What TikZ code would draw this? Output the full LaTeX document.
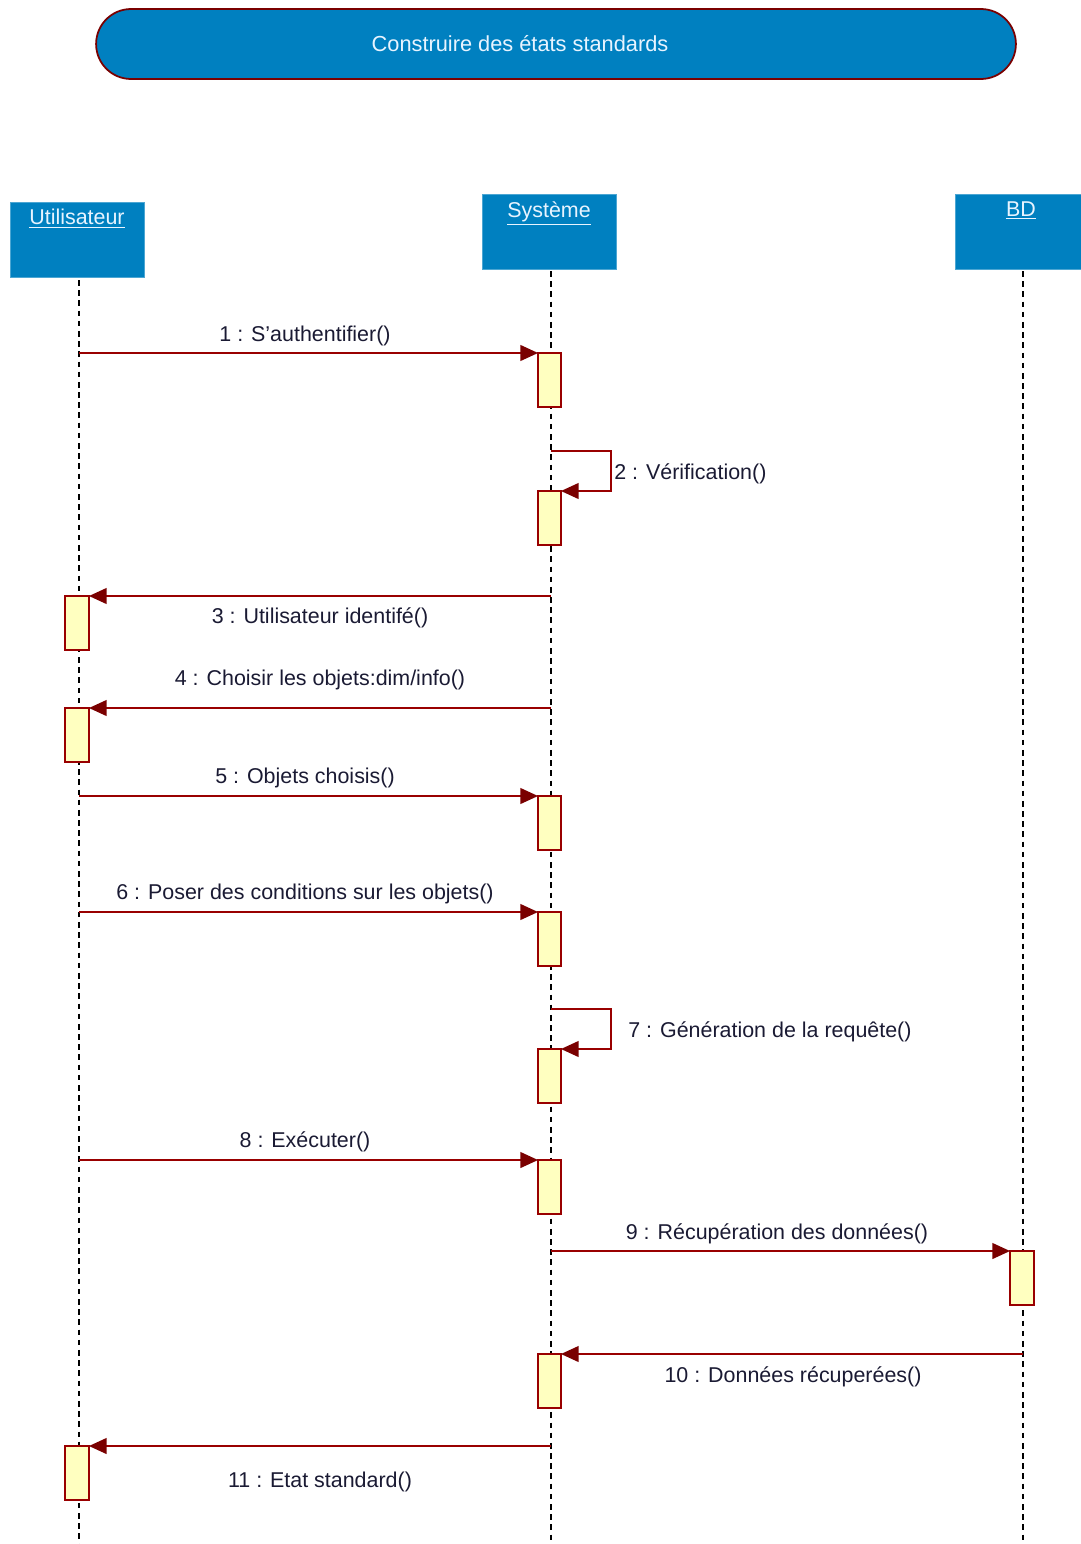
\documentclass[tikz,border=0pt]{standalone}
\usepackage{fontspec}
\setmainfont{Liberation Sans}[Ligatures=NoCommon]
\usetikzlibrary{arrows.meta,shapes.misc}
\definecolor{hdrblue}{HTML}{0080C0}
\definecolor{msgred}{HTML}{990000}
\definecolor{tipred}{HTML}{7A0000}
\definecolor{actfill}{HTML}{FFFFC0}
\definecolor{txt}{HTML}{1A1A33}
\definecolor{hdrtxt}{HTML}{E8F4FF}
\newcommand{\apos}{\char"27\relax}
\begin{document}
\begin{tikzpicture}[x=0.02cm,y=-0.02cm,
  header/.style={draw=hdrblue!70!white,fill=hdrblue,line width=0.5pt},
  hdrlabel/.style={text=hdrtxt,font=\fontsize{12.2}{14}\selectfont,inner sep=0pt,anchor=north},
  lifeline/.style={draw=black,line width=0.9pt,dash pattern=on 3.2pt off 2.6pt},
  act/.style={draw=msgred,fill=actfill,line width=0.8pt},
  msg/.style={draw=msgred,line width=0.8pt,-{Triangle[length=10pt,width=9pt,fill=tipred,color=tipred]}},
  lbl/.style={text=txt,font=\fontsize{12.2}{14}\selectfont,inner sep=0pt}]
\useasboundingbox (0,0) rectangle (1081,1544);

% title
\node[rounded rectangle,fill=hdrblue,draw=msgred!80!black,line width=1pt,
  minimum width=18.4cm,minimum height=1.4cm,inner sep=0pt,
  text=hdrtxt,font=\fontsize{12.4}{14}\selectfont] (title) at (556,44)
  {\makebox[0pt]{\hspace*{-1.44cm}Construire des états standards}};

% lifeline heads
\path[header] (10,202) rectangle (144,277);
\path[header] (482,194) rectangle (616,269);
\path[header] (955,194) rectangle (1081,269);
\node[hdrlabel] (uh) at (77,209) {\underline{Utilisateur}};
\node[hdrlabel] (sh) at (549,201) {\underline{Système}};
\node[hdrlabel] (bh) at (1021,201) {\underline{BD}};

\coordinate (u0) at (79,280);
\coordinate (u1) at (79,1544);
\coordinate (s0) at (551,271);
\coordinate (s1) at (551,1540);
\coordinate (b0) at (1023,271);
\coordinate (b1) at (1023,1540);
\draw[lifeline] (u0) -- (u1);
\draw[lifeline] (s0) -- (s1);
\draw[lifeline] (b0) -- (b1);

% activation bars
\foreach \n/\y in {s1/353,s2/491,s4/796,s5/912,s6/1049,s7/1160,s8/1354}
  \filldraw[act] (538,\y) rectangle (561,\y+54) coordinate (\n);
\foreach \n/\y in {a1/596,a2/708,a3/1446}
  \filldraw[act] (65,\y) rectangle (89,\y+54) coordinate (\n);
\filldraw[act] (1010,1251) rectangle (1034,1305);

% messages
\coordinate (m1a) at (79,353);   \coordinate (m1b) at (538,353);
\draw[msg] (m1a) -- (m1b);
\node[lbl] (l1) at (305,336) {1 : S\apos authentifier()};

\coordinate (m2a) at (551,451);  \coordinate (m2b) at (561,491);
\draw[msg] (m2a) -- (611,451) -- (611,491) -- (m2b);
\node[lbl,anchor=west] (l2) at (614,474) {2 : Vérification()};

\coordinate (m3a) at (551,596);  \coordinate (m3b) at (89,596);
\draw[msg] (m3a) -- (m3b);
\node[lbl] (l3) at (320,618) {3 : Utilisateur identifé()};

\coordinate (m4a) at (551,708);  \coordinate (m4b) at (89,708);
\draw[msg] (m4a) -- (m4b);
\node[lbl] (l4) at (320,680) {4 : Choisir les objets:dim/info()};

\coordinate (m5a) at (79,796);   \coordinate (m5b) at (538,796);
\draw[msg] (m5a) -- (m5b);
\node[lbl] (l5) at (305,778) {5 : Objets choisis()};

\coordinate (m6a) at (79,912);   \coordinate (m6b) at (538,912);
\draw[msg] (m6a) -- (m6b);
\node[lbl] (l6) at (305,894) {6 : Poser des conditions sur les objets()};

\coordinate (m7a) at (551,1009); \coordinate (m7b) at (561,1049);
\draw[msg] (m7a) -- (611,1009) -- (611,1049) -- (m7b);
\node[lbl,anchor=west] (l7) at (628,1032) {7 : Génération de la requête()};

\coordinate (m8a) at (79,1160);  \coordinate (m8b) at (538,1160);
\draw[msg] (m8a) -- (m8b);
\node[lbl] (l8) at (305,1142) {8 : Exécuter()};

\coordinate (m9a) at (551,1251); \coordinate (m9b) at (1010,1251);
\draw[msg] (m9a) -- (m9b);
\node[lbl] (l9) at (777,1234) {9 : Récupération des données()};

\coordinate (m10a) at (1023,1354); \coordinate (m10b) at (561,1354);
\draw[msg] (m10a) -- (m10b);
\node[lbl] (l10) at (793,1377) {10 : Données récuperées()};

\coordinate (m11a) at (551,1446); \coordinate (m11b) at (89,1446);
\draw[msg] (m11a) -- (m11b);
\node[lbl] (l11) at (320,1482) {11 : Etat standard()};
\end{tikzpicture}
\end{document}
